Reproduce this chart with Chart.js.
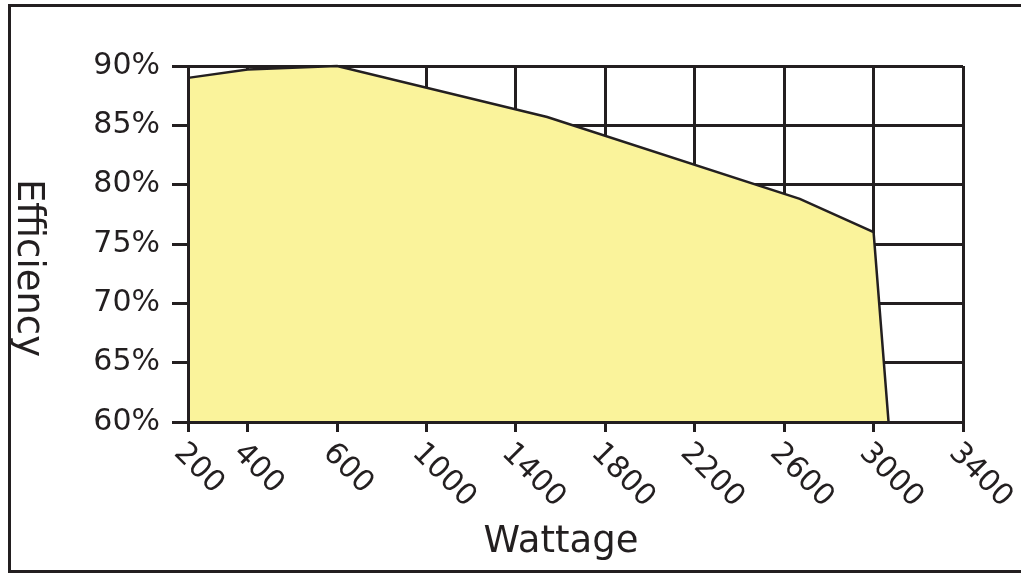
<!DOCTYPE html>
<html>
<head>
<meta charset="utf-8">
<script src="https://cdn.jsdelivr.net/npm/chart.js@4.4.1/dist/chart.umd.min.js"></script>
<style>
  body { margin: 0; background: #fff; }
  #wrap { position: absolute; left: 0; top: 0; width: 1021px; height: 573px; }
  #frame {
    position: absolute; left: 8px; top: 4px; width: 1100px; height: 563px;
    border: 3px solid #231f20; border-right: none; pointer-events: none;
  }
</style>
</head>
<body>
<div id="wrap"><canvas id="effChart"></canvas></div>
<div id="frame"></div>
<script>
// wattage axis labels and where they sit on the axis (grid slots)
const wattTicks = [200, 400, 600, 1000, 1400, 1800, 2200, 2600, 3000, 3400];
const tickSlots = [0, 2/3, 5/3, 8/3, 11/3, 14/3, 17/3, 20/3, 23/3, 26/3];

// efficiency curve
const wattage = [200, 400, 600, 1540, 2670, 3000, 3067];
const efficiency = [89.0, 89.7, 90.0, 85.7, 78.8, 76.0, 60.0];

const ink = "#231f20";

// the axis is stretched unevenly, so map watts onto slots piece by piece
function wattToSlot(w) {
  for (let i = 0; i < wattTicks.length - 1; i++) {
    if (w <= wattTicks[i + 1]) {
      const t = (w - wattTicks[i]) / (wattTicks[i + 1] - wattTicks[i]);
      return tickSlots[i] + t * (tickSlots[i + 1] - tickSlots[i]);
    }
  }
  const n = wattTicks.length - 1;
  return tickSlots[n];
}

const points = wattage.map((w, i) => ({ x: wattToSlot(w), y: efficiency[i] }));

// x labels run diagonally downwards, axis titles are drawn by hand too
const axisText = {
  id: "axisText",
  afterDraw(chart) {
    const ctx = chart.ctx;
    const xs = chart.scales.x;
    ctx.save();
    ctx.fillStyle = ink;
    ctx.font = '30px "DejaVu Sans"';
    ctx.textAlign = "left";
    ctx.textBaseline = "top";
    wattTicks.forEach((w, i) => {
      const px = xs.getPixelForValue(tickSlots[i]);
      ctx.save();
      ctx.translate(px + 1, xs.top + 16);
      ctx.rotate(Math.PI / 4);
      ctx.fillText(String(w), 0, 0);
      ctx.restore();
    });

    ctx.font = '37px "DejaVu Sans"';
    ctx.textAlign = "center";
    ctx.textBaseline = "alphabetic";
    ctx.fillText("Wattage", 561, 552);

    ctx.save();
    ctx.translate(18, 268);
    ctx.rotate(Math.PI / 2);
    ctx.fillText("Efficiency", 0, 0);
    ctx.restore();
    ctx.restore();
  }
};

new Chart(document.getElementById("effChart"), {
  type: "line",
  data: {
    datasets: [{
      data: points,
      borderColor: ink,
      borderWidth: 2.5,
      backgroundColor: "#faf39b",
      fill: "start",
      pointRadius: 0,
      tension: 0,
      clip: 4
    }]
  },
  options: {
    responsive: true,
    maintainAspectRatio: false,
    animation: false,
    layout: { padding: { left: 0, top: 66, right: 58, bottom: 0 } },
    plugins: { legend: { display: false }, tooltip: { enabled: false } },
    scales: {
      x: {
        type: "linear",
        min: 0,
        max: 26 / 3,
        afterBuildTicks: (scale) => {
          scale.ticks = tickSlots.map(v => ({ value: v }));
        },
        afterFit: (scale) => { scale.height = 151; },
        ticks: { display: false },
        grid: { color: ink, lineWidth: 3, tickLength: 10 },
        border: { color: ink, width: 3, z: 1 }
      },
      y: {
        min: 60,
        max: 90,
        afterFit: (scale) => { scale.width = 188; },
        ticks: {
          stepSize: 5,
          padding: 12,
          color: ink,
          font: { family: "DejaVu Sans", size: 30 },
          callback: (v) => v + "%"
        },
        grid: { color: ink, lineWidth: 3, tickLength: 16 },
        border: { color: ink, width: 3, z: 1 }
      }
    }
  },
  plugins: [axisText]
});
</script>
</body>
</html>
